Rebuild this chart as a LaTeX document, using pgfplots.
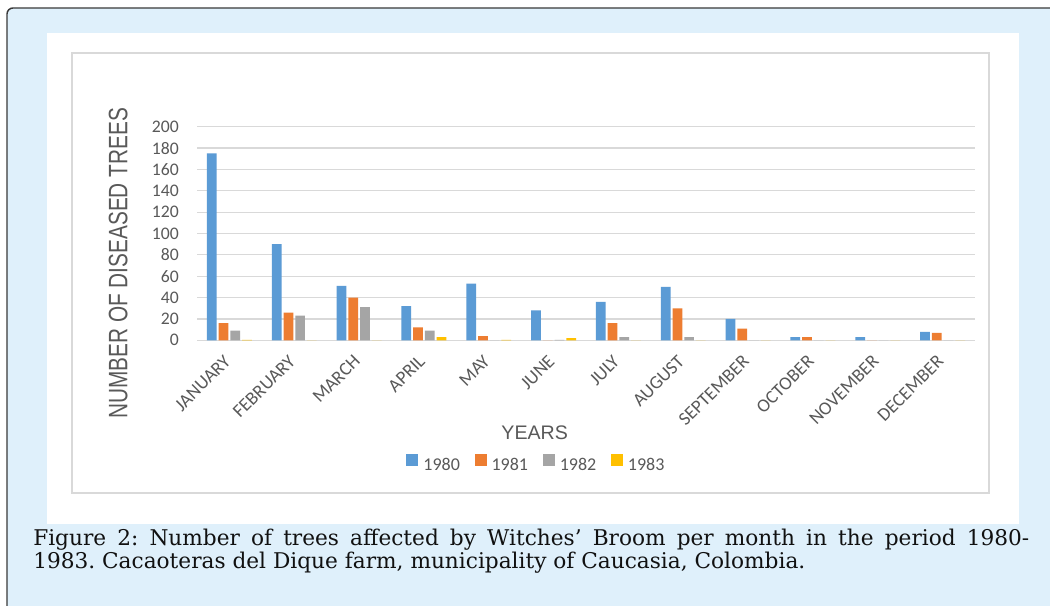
\documentclass[border=0pt]{standalone}
\usepackage{fontspec}
\usepackage{pgfplots}
\usepackage{pgfplotstable}
\pgfplotsset{compat=1.18}
\setmainfont{Carlito}
\newfontfamily\arialf{Liberation Sans}
\newfontfamily\capf{DejaVu Serif}
\definecolor{bgblue}{HTML}{DFF0FB}
\definecolor{framegray}{HTML}{3A3A3A}
\definecolor{gridgray}{HTML}{D9D9D9}
\definecolor{tickgray}{HTML}{595959}
\definecolor{cA}{HTML}{5B9BD5}
\definecolor{cB}{HTML}{ED7D31}
\definecolor{cC}{HTML}{A5A5A5}
\definecolor{cD}{HTML}{FFC000}
\definecolor{captext}{HTML}{111111}
\frenchspacing

\pgfplotstableread{
m  y80  y81  y82  y83
0  175  16   9    0.5
1  90   26   23   0
2  51   40   31   0
3  32   12   9    3
4  53   4    0    0.5
5  28   0    0.5  2
6  36   16   3    0
7  50   30   3    0
8  20   11   0    0
9  3    3    0    0
10 3    0    0    0
11 8    7    0    0
}\datatable

\begin{document}
\begin{tikzpicture}[x=0.75pt,y=0.75pt]
\useasboundingbox (0,0) rectangle (1050,606);
\fill[white] (0,0) rectangle (1050,606);
\fill[bgblue] (7,-4) -- (7,592) arc[start angle=180,end angle=90,radius=4.5pt] -- (1054,598) -- (1054,-4) -- cycle;
\draw[framegray, line width=1.1pt] (7,-4) -- (7,592) arc[start angle=180,end angle=90,radius=4.5pt] -- (1054,598);
\fill[white] (47,82) rectangle (1019,573);
\draw[gridgray, line width=0.8pt, fill=white] (72,113) rectangle (989,553);

\begin{axis}[
  at={(147.75pt,199.275pt)}, anchor=south west,
  scale only axis, width=583.5pt, height=160.2pt,
  ybar=1.5pt, bar width=0.15,
  xmin=-0.5, xmax=11.5, ymin=0, ymax=200,
  xtick={0,...,11},
  xticklabels={JANUARY,FEBRUARY,MARCH,APRIL,MAY,JUNE,JULY,AUGUST,SEPTEMBER,OCTOBER,NOVEMBER,DECEMBER},
  ytick={0,20,...,200},
  /pgf/number format/assume math mode=true,
  axis line style={draw=none}, major tick length=0pt,
  ymajorgrids, grid style={draw=gridgray, line width=0.9pt},
  tick label style={font=\fontsize{13.25}{14}\selectfont, text=tickgray},
  yticklabel style={anchor=east, inner sep=0pt, xshift=-13.5pt},
  xticklabel style={anchor=east, inner sep=0pt, xshift=-1.5pt, yshift=-13.5pt, rotate=45, font=\fontsize{14}{15}\selectfont},
  xlabel={YEARS},
  xlabel style={at={(rel axis cs:0.434,-0.434)}, anchor=center, inner sep=0pt, font=\arialf\fontsize{14.7}{16}\selectfont, text=tickgray},
  ylabel={\scalebox{0.78}[1]{NUMBER OF DISEASED TREES}},
  ylabel style={at={(rel axis cs:-0.1012,0.3605)}, anchor=center, inner sep=0pt, font=\arialf\fontsize{20}{22}\selectfont, text=tickgray},
  legend columns=4,
  legend style={at={(rel axis cs:0.435,-0.577)}, anchor=center, draw=none, fill=none,
    font=\fontsize{13.5}{15}\selectfont, text=tickgray, inner sep=0pt, nodes={inner sep=0pt},
    /tikz/every odd column/.append style={column sep=3.75pt},
    /tikz/every even column/.append style={column sep=11pt}},
  legend image code/.code={\fill[#1] (0pt,-0.2pt) rectangle (9pt,8.8pt);},
]
\addplot[fill=cA, draw=none] table[x=m, y=y80] {\datatable};
\addplot[fill=cB, draw=none] table[x=m, y=y81] {\datatable};
\addplot[fill=cC, draw=none] table[x=m, y=y82] {\datatable};
\addplot[fill=cD, draw=none] table[x=m, y=y83] {\datatable};
\legend{1980,1981,1982,1983}
\end{axis}

\node[anchor=base west, inner sep=0pt, font=\capf\fontsize{16.25}{19}\selectfont, text=captext] at (33,60.3)
  {\makebox[747pt][s]{Figure 2: Number of trees affected by Witches’ Broom per month in the period 1980-}};
\node[anchor=base west, inner sep=0pt, font=\capf\fontsize{16.25}{19}\selectfont, text=captext] at (33,37)
  {1983. Cacaoteras del Dique farm, municipality of Caucasia, Colombia.};
\end{tikzpicture}
\end{document}
